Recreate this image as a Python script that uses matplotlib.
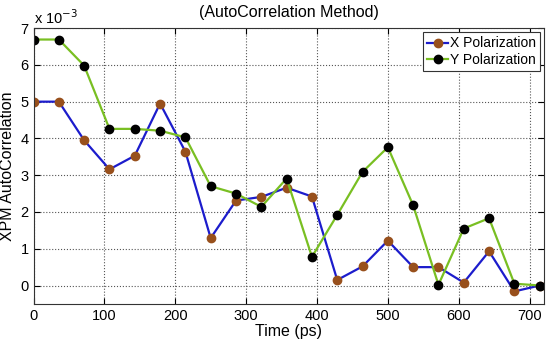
import matplotlib
matplotlib.use("Agg")
import matplotlib.pyplot as plt
import numpy as np

plt.rcParams['font.family'] = ['Liberation Sans', 'DejaVu Sans']

time_ps = [0, 35.7, 71.4, 107.1, 142.8, 178.5, 214.2, 249.9, 285.6, 321.3, 357.0,
           392.7, 428.4, 464.1, 499.8, 535.5, 571.2, 606.9, 642.6, 678.3, 714.0]
x_pol = [5.0, 5.0, 3.95, 3.16, 3.53, 4.95, 3.64, 1.29, 2.31, 2.41, 2.66,
         2.42, 0.15, 0.52, 1.22, 0.50, 0.50, 0.08, 0.93, -0.16, 0.0]
y_pol = [6.69, 6.69, 5.98, 4.26, 4.26, 4.21, 4.03, 2.70, 2.50, 2.14, 2.91,
         0.78, 1.92, 3.09, 3.76, 2.18, 0.02, 1.55, 1.83, 0.05, 0.0]
x_ticks = [0, 100, 200, 300, 400, 500, 600, 700]
y_ticks = [0, 1, 2, 3, 4, 5, 6, 7]

fig = plt.figure(figsize=(5.5, 3.43), dpi=100)
ax = fig.add_axes([0.061, 0.114, 0.928, 0.804])

ax.plot(time_ps, x_pol, '-o', color='#1c1ccc', lw=1.6, marker='o', markersize=6,
        markerfacecolor='#98501c', markeredgecolor='#98501c', label='X Polarization')
ax.plot(time_ps, y_pol, '-o', color='#79bf22', lw=1.6, marker='o', markersize=6,
        markerfacecolor='#000000', markeredgecolor='#000000', label='Y Polarization')

ax.set_xlim(0, 720)
ax.set_ylim(-0.5, 7)
ax.set_xticks(x_ticks)
ax.set_yticks(y_ticks)
ax.grid(True, linestyle=':', color='#555555', lw=0.8)
ax.tick_params(direction='in', top=True, right=True, labelsize=10.5, length=4)
for s in ax.spines.values():
    s.set_color('#333333')
    s.set_linewidth(0.8)

ax.set_xlabel('Time (ps)', fontsize=11.5, labelpad=1)
ax.set_ylabel('XPM AutoCorrelation', fontsize=11.5, labelpad=4)
ax.set_title('(AutoCorrelation Method)', fontsize=11.5, pad=8)
ax.text(0.0, 1.005, 'x 10$^{-3}$', transform=ax.transAxes, fontsize=10.5,
        ha='left', va='bottom')

leg = ax.legend(loc='upper right', fontsize=10, fancybox=False, framealpha=1,
                edgecolor='#333333', borderpad=0.3, labelspacing=0.2,
                handlelength=1.5, handletextpad=0.1, borderaxespad=0.3)
leg.get_frame().set_linewidth(0.8)

fig.savefig('out.png', dpi=100)
